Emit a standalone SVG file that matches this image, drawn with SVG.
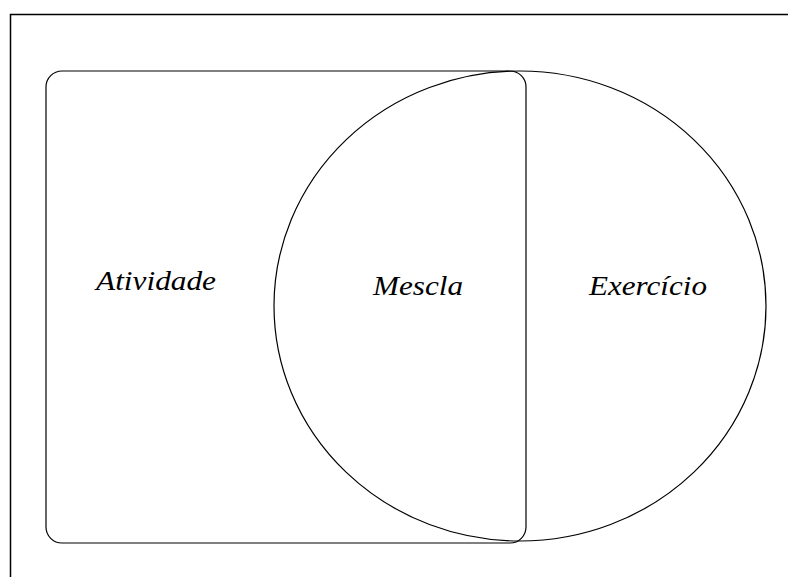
<svg xmlns="http://www.w3.org/2000/svg" width="788" height="577" viewBox="0 0 788 577">
<style>
.shape{fill:none;stroke:#000;stroke-width:1.2}
.lbl{font-style:italic;font-size:28px;fill:#000;text-anchor:middle}
</style>
<rect width="788" height="577" fill="#fff"/>
<path d="M10.5 577 V14.5 H788" fill="none" stroke="#000" stroke-width="1.5"/>
<g id="atividade">
<rect class="shape" x="46" y="71" width="480" height="472" rx="16" ry="16"/>
<text class="lbl" font-family="Liberation Serif, DejaVu Serif, serif" x="156" y="290" textLength="120" lengthAdjust="spacingAndGlyphs">Atividade</text>
</g>
<g id="exercicio">
<ellipse class="shape" cx="520" cy="306" rx="246" ry="235"/>
<text class="lbl" font-family="Liberation Serif, DejaVu Serif, serif" x="648" y="295" textLength="118" lengthAdjust="spacingAndGlyphs">Exercício</text>
</g>
<g id="mescla">
<text class="lbl" font-family="Liberation Serif, DejaVu Serif, serif" x="418" y="295" textLength="90" lengthAdjust="spacingAndGlyphs">Mescla</text>
</g>
<g id="connectors"></g>
</svg>
